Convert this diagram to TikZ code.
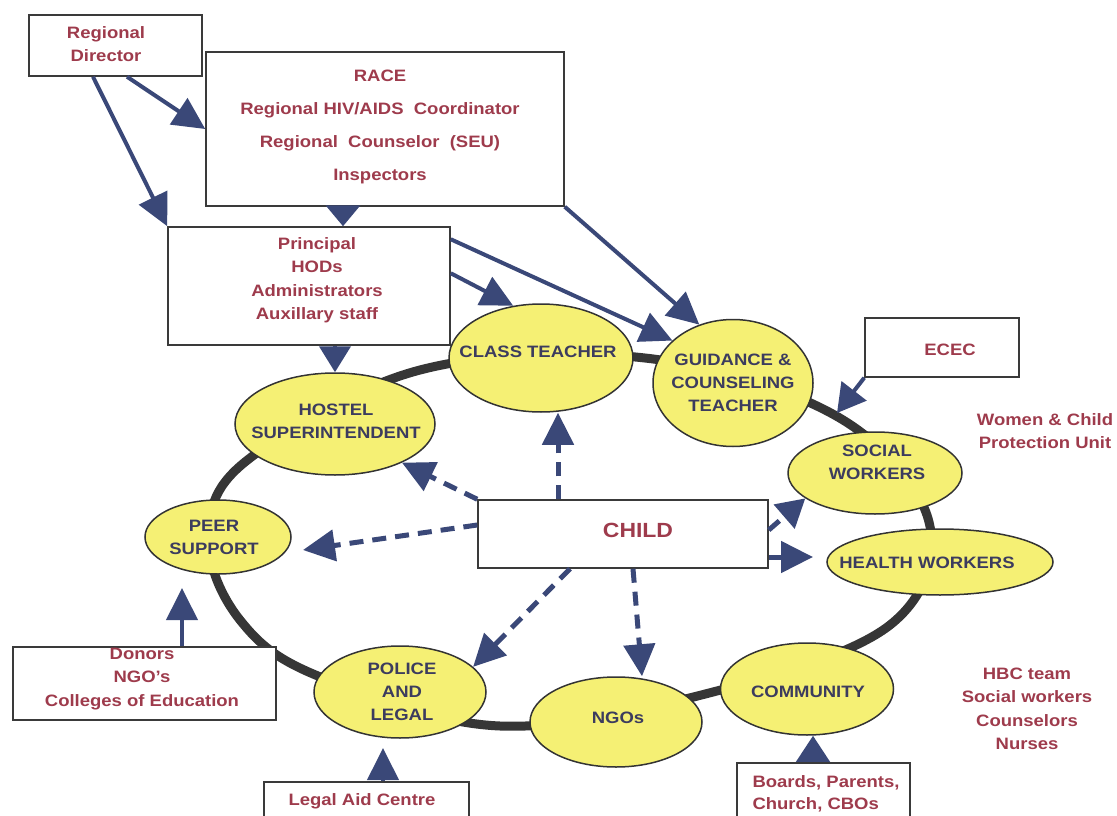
\documentclass[tikz,border=0pt]{standalone}
\usepackage{fontspec}
\setmainfont[FakeStretch=1.12]{Liberation Sans}
\usetikzlibrary{arrows.meta,shapes.geometric}
\definecolor{arrowc}{HTML}{3A4878}
\definecolor{redtxt}{HTML}{9E3B4C}
\definecolor{elltxt}{HTML}{3C3C5E}
\definecolor{ellfill}{HTML}{F5F074}
\definecolor{ringc}{HTML}{363636}
\definecolor{boxc}{HTML}{3A3A3A}
\begin{document}
\begin{tikzpicture}[x=1pt,y=-1pt,
  box/.style={draw=boxc, line width=1.5pt, fill=white, inner sep=0pt, rectangle},
  ell/.style={ellipse, draw=black!80, line width=1.5pt, fill=ellfill, inner sep=0pt},
  rtext/.style={text=redtxt, font=\bfseries\fontsize{16.5}{23.5}\selectfont, align=center, inner sep=0pt},
  etext/.style={text=elltxt, font=\bfseries\fontsize{16.5}{23}\selectfont, align=center, inner sep=0pt},
  arr/.style={draw=arrowc, line width=4pt, -{Triangle[length=32pt,width=31pt]}},
  darr/.style={arr, line width=5pt, dash pattern=on 14pt off 9pt},
]
\useasboundingbox (0,0) rectangle (1117,816);
% ring
\draw[ringc, line width=9pt] plot[smooth cycle, tension=0.6] coordinates {(420,370) (645,358) (838,417) (929,522) (890,625) (713,692) (500,726) (318,676) (240,620) (209,540) (245,462)};
% ellipses
\node[ell, minimum width=184pt, minimum height=108pt] (ct) at (541,358) {};
\node[ell, minimum width=160pt, minimum height=127pt] (gc) at (733,383) {};
\node[ell, minimum width=200pt, minimum height=102pt] (hs) at (335,424) {};
\node[ell, minimum width=146pt, minimum height=74pt] (peer) at (218,537) {};
\node[ell, minimum width=174pt, minimum height=82pt] (sw) at (875,473) {};
\node[ell, minimum width=226pt, minimum height=66pt] (hw) at (940,562) {};
\node[ell, minimum width=172pt, minimum height=92pt] (police) at (400,692) {};
\node[ell, minimum width=172pt, minimum height=90pt] (ngo) at (616,722) {};
\node[ell, minimum width=173pt, minimum height=92pt] (comm) at (807,689) {};
\node[etext] (ctt) at (538,352) {CLASS TEACHER};
\node[etext] (gct) at (733,383) {GUIDANCE \&\\COUNSELING\\TEACHER};
\node[etext] (hst) at (336,421) {HOSTEL\\SUPERINTENDENT};
\node[etext] (peert) at (214,537) {PEER\\SUPPORT};
\node[etext] (swt) at (877,462) {SOCIAL\\WORKERS};
\node[etext] (hwt) at (927,563) {HEALTH WORKERS};
\node[etext] (policet) at (402,692) {POLICE\\AND\\LEGAL};
\node[etext] (ngot) at (618,718) {NGOs};
\node[etext] (commt) at (808,692) {COMMUNITY};
% boxes
\node[box, minimum width=173pt, minimum height=61pt] (rd) at (115.5,45.5) {};
\node[box, minimum width=358pt, minimum height=154pt] (race) at (385,129) {};
\node[box, minimum width=282pt, minimum height=118pt] (prin) at (309,286) {};
\node[box, minimum width=290pt, minimum height=68pt] (child) at (623,534) {};
\node[box, minimum width=154pt, minimum height=59pt] (ecec) at (942,347.5) {};
\node[box, minimum width=263pt, minimum height=73pt] (donors) at (144.5,683.5) {};
\node[box, minimum width=205pt, minimum height=44pt] (legal) at (366.5,804) {};
\node[box, minimum width=173pt, minimum height=64pt] (boards) at (823.5,795) {};
\node[rtext] (rdt) at (106,44) {Regional\\Director};
\node[rtext, font=\bfseries\fontsize{16.5}{33}\selectfont] (racet) at (380,127) {RACE\\Regional HIV/AIDS\ \ Coordinator\\Regional\ \ Counselor\ \ (SEU)\\Inspectors};
\node[rtext] (print) at (317,280) {Principal\\HODs\\Administrators\\Auxillary staff};
\node[rtext, font=\bfseries\fontsize{20.5}{23}\selectfont] (childt) at (638,530) {CHILD};
\node[rtext] (ecect) at (950,350) {ECEC};
\node[rtext] (wct) at (1045,431) {Women \& Child\\Protection Unit};
\node[rtext] (donorst) at (142,679) {Donors\\NGO's\\Colleges of Education};
\node[rtext] (legalt) at (362,801) {Legal Aid Centre};
\node[rtext, align=left, font=\bfseries\fontsize{16.5}{22}\selectfont] (boardst) at (826,794) {Boards, Parents,\\Church, CBOs};
\node[rtext] (hbct) at (1027,709) {HBC team\\Social workers\\Counselors\\Nurses};
% solid arrows
\draw[arr] ([xshift=11.5pt]rd.south) -- (race.west);
\draw[arr] ([xshift=-22.5pt]rd.south) -- (prin.north west);
\coordinate (r1) at ([xshift=-42pt]race.south);
\draw[arr, -{Triangle[length=21pt,width=34pt]}] (r1) -- (r1 |- prin.north);
\draw[arr] (race.south east) -- (gc.120);
\draw[arr] ([yshift=-13pt]prin.north east) -- (gc.145);
\draw[arr] ([yshift=-47pt]prin.north east) -- (ct.118);
\draw[arr, -{Triangle[length=26pt,width=31pt]}] (prin.south -| hs.north) -- (hs.north);
\coordinate (ecectip) at (837,413);
\draw[arr, -{Triangle[length=28pt,width=31pt]}] (ecec.south west) -- (ecectip);
\coordinate (peertip) at (182,588);
\draw[arr] ([xshift=37.5pt]donors.north) -- (peertip);
\coordinate (poltip) at (383,748);
\draw[arr] ([xshift=16.5pt]legal.north) -- (poltip);
\coordinate (c1) at ([xshift=6pt]comm.south);
\draw[arr, -{Triangle[length=26pt,width=33pt]}] (boards.north -| c1) -- (c1);
% dashed arrows
\coordinate (c2) at ([xshift=17pt]ct.south);
\draw[darr] (child.north -| c2) -- (c2);
\draw[darr] (child.north west) -- (hs.-30);
\coordinate (pa) at (303,550);
\draw[darr] ([yshift=9pt]child.west) -- (pa);
\draw[darr] ([xshift=-53pt]child.south) -- (police.19);
\draw[darr] ([xshift=10pt]child.south) -- ([xshift=26pt]ngo.north);
\draw[darr, -{Triangle[length=28pt,width=31pt]}] ([yshift=4pt]child.east) -- (sw.200);
\coordinate (hwtip) at (813,557);
\draw[darr] ([yshift=-23pt]child.east) -- (hwtip);
\end{tikzpicture}
\end{document}
